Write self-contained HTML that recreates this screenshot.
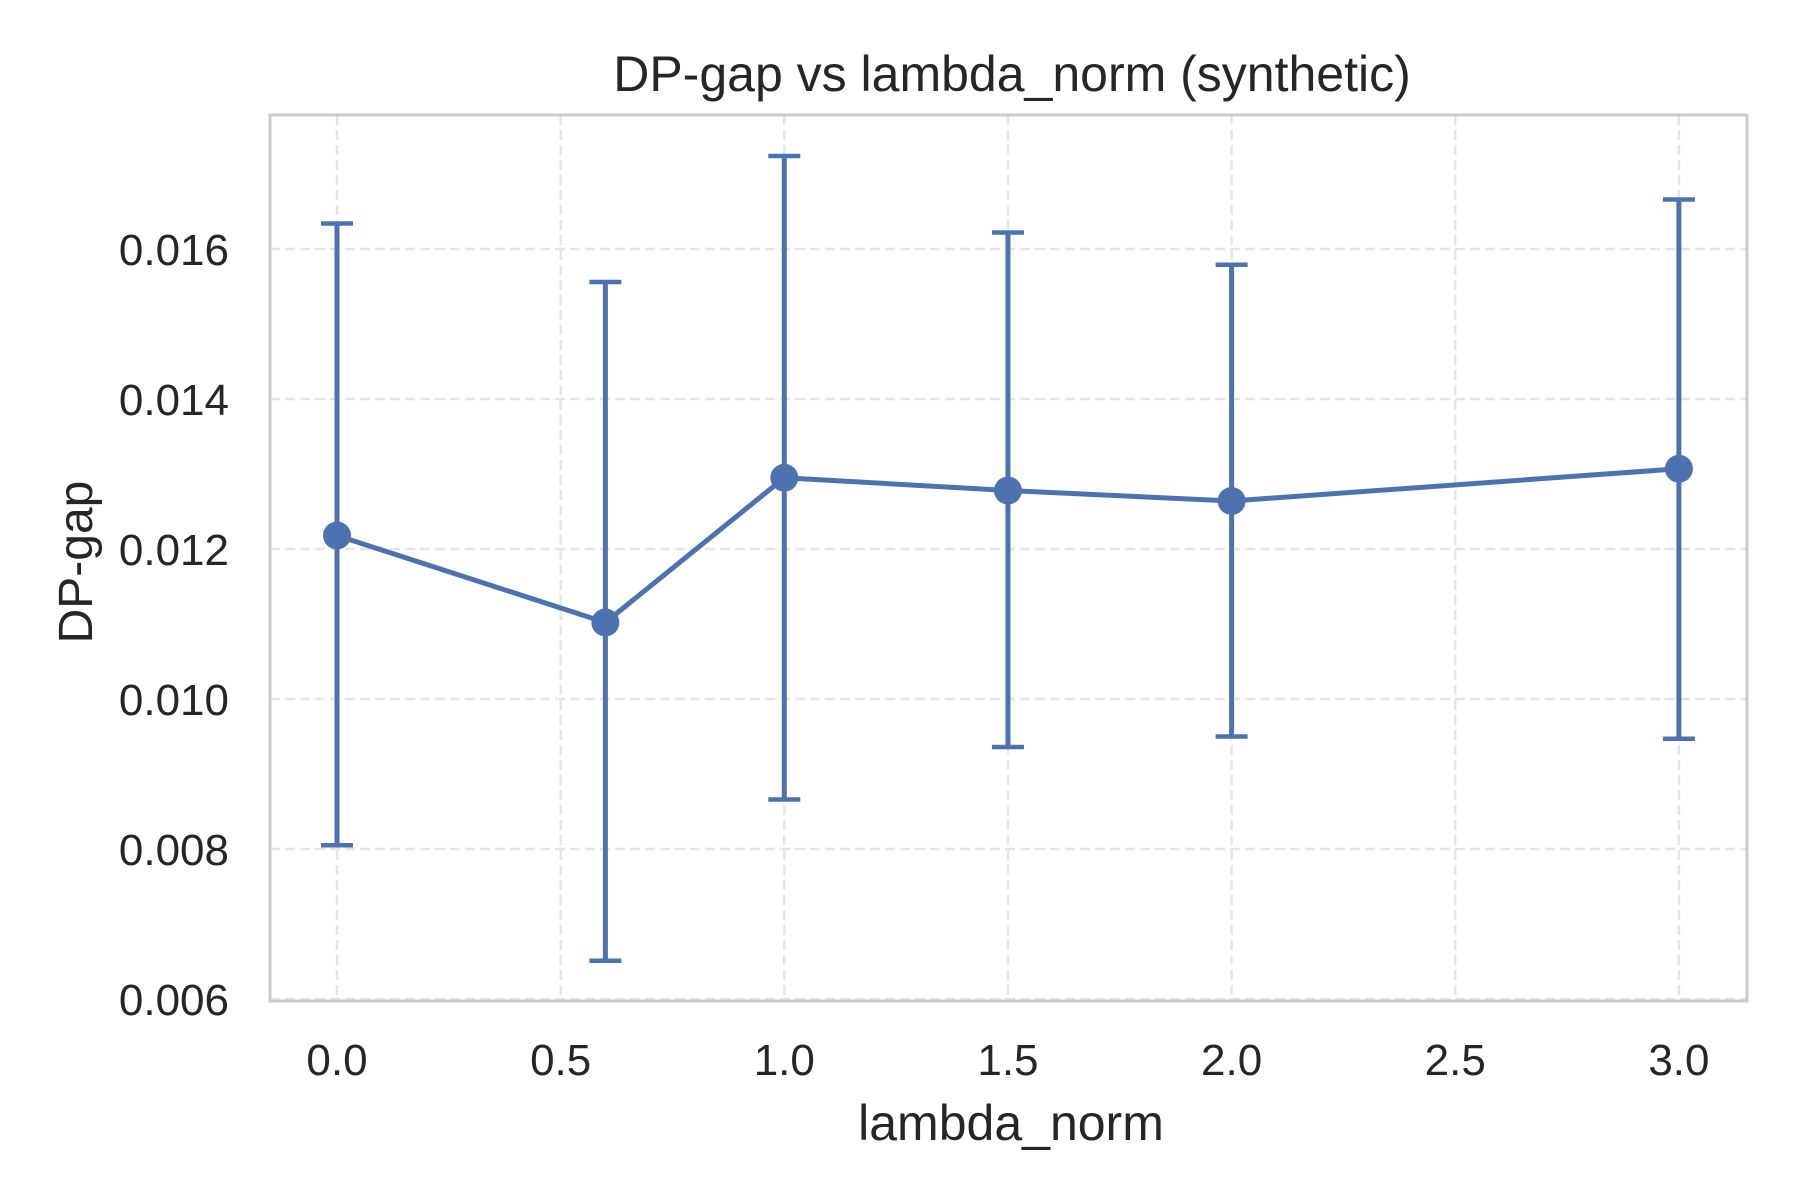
<!DOCTYPE html>
<html><head><meta charset="utf-8"><style>
html,body{margin:0;padding:0;background:#fff;}
svg{display:block;font-family:"Liberation Sans",Arial,sans-serif;}
</style></head><body>
<svg id="chart" width="1800" height="1200" viewBox="0 0 1800 1200">
<rect width="1800" height="1200" fill="#fff"/>
<g id="grid"></g>
<rect x="270" y="115" width="1477" height="886" fill="none" stroke="#cccccc" stroke-width="3"/>
<g id="series"></g>
<g id="ticks"></g>
<text x="1012" y="91" font-size="50" fill="#262626" text-anchor="middle">DP-gap vs lambda_norm (synthetic)</text>
<text x="1011" y="1140" font-size="50" fill="#262626" text-anchor="middle">lambda_norm</text>
<text transform="translate(92,562) rotate(-90)" font-size="48" fill="#262626" text-anchor="middle">DP-gap</text>
</svg>
<script>
const xValues = [0, 0.6, 1.0, 1.5, 2.0, 3.0];
const meanValues = [0.01218, 0.01102, 0.01295, 0.01278, 0.01264, 0.01307];
const upperValues = [0.01634, 0.01556, 0.01724, 0.01622, 0.01579, 0.01666];
const lowerValues = [0.00805, 0.00651, 0.00866, 0.00936, 0.00950, 0.00947];
const xTicks = [0, 0.5, 1.0, 1.5, 2.0, 2.5, 3.0];
const xTickLabels = ["0.0","0.5","1.0","1.5","2.0","2.5","3.0"];
const yTicks = [0.006, 0.008, 0.010, 0.012, 0.014, 0.016];
const yTickLabels = ["0.006","0.008","0.010","0.012","0.014","0.016"];

const NS = "http://www.w3.org/2000/svg";
function xs(v){ return 337 + v * 447.3; }
function ys(v){ return 999 - (v - 0.006) * 75000; }
function mk(tag, attrs, parent){
  const e = document.createElementNS(NS, tag);
  for (const k in attrs) e.setAttribute(k, attrs[k]);
  parent.appendChild(e);
  return e;
}
const grid = document.getElementById('grid');
const ticks = document.getElementById('ticks');
const series = document.getElementById('series');
const color = "#4c72b0";

xTicks.forEach((t, i) => {
  const l = mk('line', {x1: xs(t), x2: xs(t), y1: 115, y2: 1001, stroke: '#e5e5e5', 'stroke-width': 2.5, 'stroke-dasharray': '10,5'}, grid);
  
  
  const tx = mk('text', {x: xs(t), y: 1075, 'font-size': 44, fill: '#262626', 'text-anchor': 'middle'}, ticks);
  tx.textContent = xTickLabels[i];
  
  
});
yTicks.forEach((t, i) => {
  const l = mk('line', {x1: 270, x2: 1747, y1: ys(t), y2: ys(t), stroke: '#e5e5e5', 'stroke-width': 2.5, 'stroke-dasharray': '10,5'}, grid);
  
  
  const tx = mk('text', {x: 229, y: ys(t) + 16, 'font-size': 44, fill: '#262626', 'text-anchor': 'end'}, ticks);
  tx.textContent = yTickLabels[i];
  
  
});

xValues.forEach((x, i) => {
  const cx = xs(x);
  const e = mk('line', {x1: cx, x2: cx, y1: ys(upperValues[i]), y2: ys(lowerValues[i]), stroke: color, 'stroke-width': 5}, series);
  
  
  [upperValues[i], lowerValues[i]].forEach(v => {
    const c = mk('line', {x1: cx - 16, x2: cx + 16, y1: ys(v), y2: ys(v), stroke: color, 'stroke-width': 4.5}, series);
    
    
  });
});
const pts = xValues.map((x, i) => xs(x) + ',' + ys(meanValues[i])).join(' ');
const pl = mk('polyline', {points: pts, fill: 'none', stroke: color, 'stroke-width': 5, 'stroke-linejoin': 'round'}, series);


xValues.forEach((x, i) => {
  const c = mk('circle', {cx: xs(x), cy: ys(meanValues[i]), r: 14, fill: color}, series);
  
  
});
</script>
</body></html>
